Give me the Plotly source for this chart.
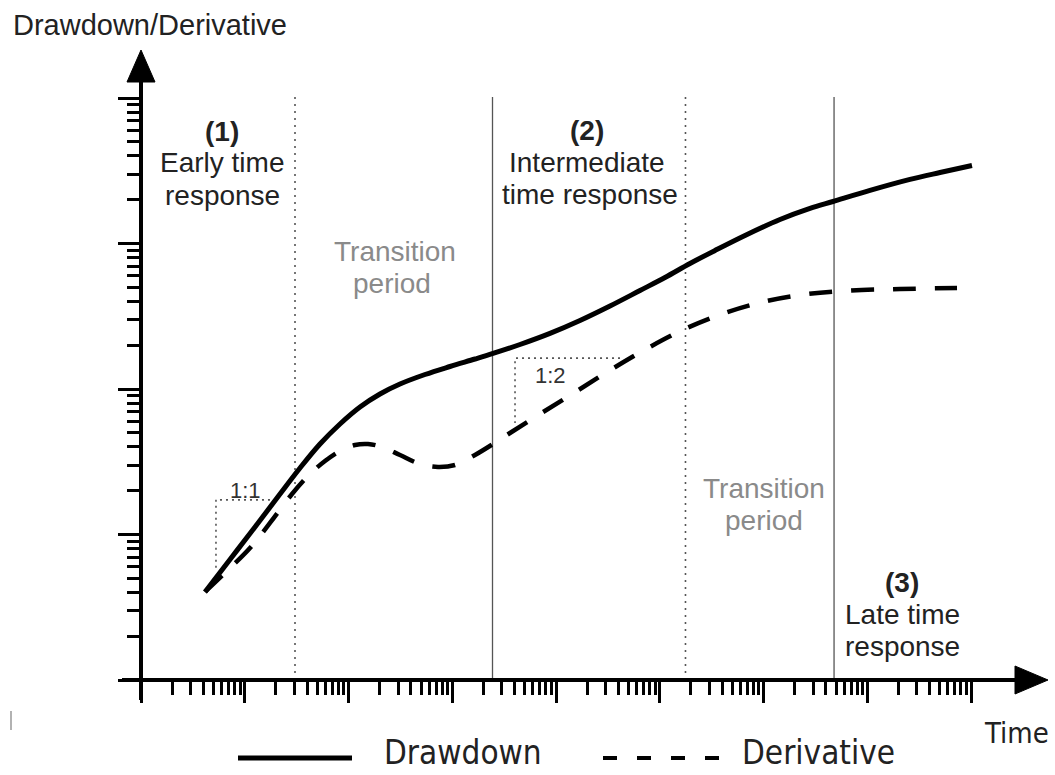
import plotly.graph_objects as go

# ---------------- data (read from the schematic) ----------------
time_dd = [4.139, 7.207, 12.56, 21.87, 34.08, 53.13, 82.8, 129.1, 201.2, 313.6, 546.2,
           951.2, 1657, 2471, 4498, 8752, 17030, 33150, 64500, 112300, 195600, 340800,
           663200, 1.442e6, 2.807e6, 4.677e6, 1.063e7, 2.582e7, 5.026e7, 1.022e8]
drawdown = [4.026, 6.733, 11.26, 18.98, 28.64, 41.88, 57.47, 75.20, 92.39, 108.2, 125.8,
            142.8, 160.8, 175.6, 202.2, 241.1, 295.7, 371.9, 475.3, 583.9, 728.7, 895.0,
            1135, 1462, 1743, 1944, 2317, 2757, 3076, 3437]

time_dv = [4.139, 6.895, 11.23, 17.51, 28.54, 42.56, 59.36, 82.80, 115.5, 154.2, 210.3,
           313.6, 488.9, 729.0, 1063, 1657, 2471, 3602, 7013, 15940, 34660, 77030,
           183100, 425600, 1.081e6, 2.685e6, 6.818e6, 2.069e7, 7.333e7]
derivative = [4.026, 5.702, 8.074, 12.00, 18.98, 26.05, 32.00, 37.49, 41.22, 41.88, 39.94,
              35.19, 30.51, 29.10, 30.04, 35.19, 41.88, 49.84, 67.33, 96.90, 137.2, 191.3,
              262.6, 333.0, 402.5, 449.8, 475.3, 486.7, 494.5]

# boundaries between flow regimes (time)
dotted_bounds = [30.5, 177000]
solid_bounds = [2443, 4.786e6]
bound_low, bound_high = 1, 10160

# slope guide triangles (time, value)
guide11_t = [17.5, 5.28, 5.28]
guide11_v = [17.3, 17.3, 5.70]
guide12_t = [41400, 4027, 4027]
guide12_v = [163, 163, 58.4]

# axis ticks
x_major = [10 ** k for k in range(9)]
x_minor = [m * 10 ** k for k in range(8) for m in range(2, 10)]
y_major = [10 ** k for k in range(5)]
y_minor = [m * 10 ** k for k in range(4) for m in range(2, 10)]

# ---------------- layout geometry ----------------
W, H = 1055, 775
L, R, T, B = 122, 1040, 60, 700          # plot-area pixel box
PW, PH = R - L, B - T


def X(px):
    return (px - L) / PW


def Y(py):
    return (B - py) / PH


FONT = "Liberation Sans, Arial, Helvetica, sans-serif"
NARROW = "DejaVu Sans Condensed, Liberation Sans, sans-serif"

fig = go.Figure()

# regime boundary lines
for xb in dotted_bounds:
    fig.add_trace(go.Scatter(x=[xb, xb], y=[bound_low, bound_high], mode="lines",
                             line=dict(color="#555555", width=1.6, dash="2px,5px"),
                             hoverinfo="skip", showlegend=False))
for xb in solid_bounds:
    fig.add_trace(go.Scatter(x=[xb, xb], y=[bound_low, bound_high], mode="lines",
                             line=dict(color="#555555", width=1.3),
                             hoverinfo="skip", showlegend=False))

# slope guides
for gt, gv in ((guide11_t, guide11_v), (guide12_t, guide12_v)):
    fig.add_trace(go.Scatter(x=gt, y=gv, mode="lines",
                             line=dict(color="#555555", width=1.6, dash="2px,4px"),
                             hoverinfo="skip", showlegend=False))

# curves
fig.add_trace(go.Scatter(x=time_dv, y=derivative, mode="lines", name="Derivative",
                         line=dict(color="black", width=4.5, dash="23px,19px",
                                   shape="spline", smoothing=1.0),
                         showlegend=False))
fig.add_trace(go.Scatter(x=time_dd, y=drawdown, mode="lines", name="Drawdown",
                         line=dict(color="black", width=5, shape="spline", smoothing=1.0),
                         showlegend=False))

xr0 = -(141 - L) / 103.75
xr1 = 8 + (R - 971) / 103.75
yr0 = -(B - 680) / 145.5
yr1 = (680 - T) / 145.5

fig.update_layout(
    width=W, height=H,
    margin=dict(l=L, r=W - R, t=T, b=H - B, pad=0),
    paper_bgcolor="white", plot_bgcolor="white",
    showlegend=False,
    font=dict(family=FONT, color="#222222"),
    xaxis=dict(type="log", range=[xr0, xr1], anchor="free", position=Y(680),
               showline=True, linewidth=4, linecolor="black",
               ticks="outside", tickmode="array", tickvals=x_major,
               ticklen=21, tickwidth=3, tickcolor="black",
               showticklabels=False, showgrid=False, zeroline=False,
               minor=dict(tickmode="array", tickvals=x_minor, ticks="outside",
                          ticklen=13, tickwidth=3, tickcolor="black", showgrid=False)),
    yaxis=dict(type="log", range=[yr0, yr1], anchor="free", position=X(141),
               showline=True, linewidth=4, linecolor="black",
               ticks="outside", tickmode="array", tickvals=y_major,
               ticklen=21, tickwidth=3, tickcolor="black",
               showticklabels=False, showgrid=False, zeroline=False,
               minor=dict(tickmode="array", tickvals=y_minor, ticks="outside",
                          ticklen=12, tickwidth=3, tickcolor="black", showgrid=False)),
)

shapes = []
# arrow heads
shapes.append(dict(type="path", xref="paper", yref="paper", layer="above",
                   path=f"M {X(1015)} {Y(666)} L {X(1048)} {Y(680)} L {X(1015)} {Y(694)} Z",
                   fillcolor="black", line=dict(color="black", width=1)))
shapes.append(dict(type="path", xref="paper", yref="paper", layer="above",
                   path=f"M {X(127)} {Y(82)} L {X(141)} {Y(50)} L {X(155)} {Y(82)} Z",
                   fillcolor="black", line=dict(color="black", width=1)))
# legend samples
shapes.append(dict(type="line", xref="paper", yref="paper", x0=X(238), x1=X(352),
                   y0=Y(758), y1=Y(758), line=dict(color="black", width=5)))
shapes.append(dict(type="line", xref="paper", yref="paper", x0=X(603), x1=X(720),
                   y0=Y(758), y1=Y(758), line=dict(color="black", width=4, dash="14px,20px")))
# small stray mark at lower left
shapes.append(dict(type="line", xref="paper", yref="paper", x0=X(11), x1=X(11),
                   y0=Y(711), y1=Y(730), line=dict(color="#999999", width=1.5)))
fig.update_layout(shapes=shapes)


def label(text, cx, cy, size=28, color="#222222", bold=False, anchor="center",
          family=FONT, yanchor="middle"):
    fig.add_annotation(text=f"<b>{text}</b>" if bold else text,
                       x=X(cx), y=Y(cy), xref="paper", yref="paper",
                       xanchor=anchor, yanchor=yanchor, showarrow=False,
                       font=dict(size=size, color=color, family=family))


label("Drawdown/Derivative", 11, 25, size=29, anchor="left")
label("(1)", 222, 131, bold=True)
label("Early time", 222, 163)
label("response", 222, 195)
label("(2)", 587, 130, bold=True)
label("Intermediate", 587, 162)
label("time response", 590, 194)
label("(3)", 902, 582, bold=True)
label("Late time", 902, 614)
label("response", 902, 646)
label("Transition", 395, 251, color="#8a8a8a")
label("period", 392, 283, color="#8a8a8a")
label("Transition", 764, 488, color="#8a8a8a")
label("period", 764, 520, color="#8a8a8a")
label("1:1", 245, 490, size=22, color="#333333")
label("1:2", 550, 375, size=22, color="#333333")
label("Time", 1016, 733, size=29, family=NARROW)
label("Drawdown", 382, 774, size=33, anchor="left", family=NARROW, yanchor="bottom")
label("Derivative", 740, 774, size=33, anchor="left", family=NARROW, yanchor="bottom")

fig.write_html("out.html")
